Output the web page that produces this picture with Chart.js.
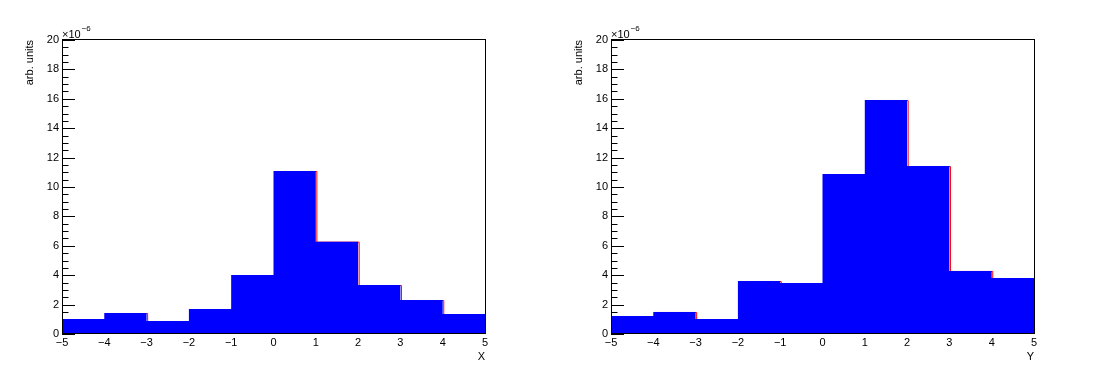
<!DOCTYPE html>
<html lang="en">
<head>
    <meta charset="UTF-8">
    <title>X / Y histograms</title>
    <script src="https://cdn.jsdelivr.net/npm/chart.js"></script>
    <style>
        body {
            margin: 0;
            background-color: #ffffff;
        }
        .row {
            display: flex;
            width: 1098px;
            height: 376px;
        }
        .pad {
            position: relative;
            width: 549px;
            height: 376px;
        }
    </style>
</head>
<body>
    <div class="row">
        <div class="pad"><canvas id="histX"></canvas></div>
        <div class="pad"><canvas id="histY"></canvas></div>
    </div>

    <script>
        // histogram bins (10 bins from -5 to 5), contents in units of 1e-6
        var binEdges = [-5, -4, -3, -2, -1, 0, 1, 2, 3, 4, 5];
        var xContents = [1.02, 1.43, 0.88, 1.70, 4.01, 11.09, 6.28, 3.33, 2.31, 1.36];
        var yContents = [1.22, 1.50, 1.02, 3.60, 3.47, 10.88, 15.92, 11.43, 4.29, 3.81];
        var yRange = [0, 20];
        var exponentLabel = '\u22126';
        var yTitle = 'arb. units';

        var FONT = '"Liberation Sans", Arial, Helvetica, sans-serif';

        function stepPoints(contents) {
            // one point per edge, last edge repeats the last bin content
            return binEdges.map(function(e, i) {
                return {x: e, y: contents[Math.min(i, contents.length - 1)]};
            });
        }

        function minusSign(v) {
            return String(v).replace('-', '\u2212');
        }

        // ROOT-like frame, inward ticks and titles
        var rootFrame = {
            id: 'rootFrame',
            beforeDatasetsDraw: function(chart) {
                var ctx = chart.ctx, a = chart.chartArea;
                var xs = chart.scales.x, ys = chart.scales.y;
                ctx.save();
                ctx.strokeStyle = '#000';
                ctx.lineWidth = 1;
                ctx.beginPath();
                for (var v = yRange[0]; v <= yRange[1] + 1e-9; v += 0.5) {
                    var py = Math.round(ys.getPixelForValue(v)) + 0.5;
                    var len = (Math.abs(v % 2) < 1e-9) ? 13 : 6.5;
                    ctx.moveTo(a.left, py);
                    ctx.lineTo(a.left + len, py);
                }
                for (var u = binEdges[0]; u <= binEdges[binEdges.length - 1] + 1e-9; u += 0.5) {
                    var px = Math.round(xs.getPixelForValue(u)) + 0.5;
                    var l2 = (Math.abs(u % 1) < 1e-9) ? 9 : 4.5;
                    ctx.moveTo(px, a.bottom);
                    ctx.lineTo(px, a.bottom - l2);
                }
                ctx.stroke();
                ctx.restore();
            },
            afterDatasetsDraw: function(chart, args, opts) {
                var ctx = chart.ctx, a = chart.chartArea;
                ctx.save();
                ctx.strokeStyle = '#000';
                ctx.lineWidth = 1;
                ctx.strokeRect(Math.round(a.left) + 0.5, Math.round(a.top) - 0.5,
                    Math.round(a.right - a.left), Math.round(a.bottom - a.top));

                ctx.fillStyle = '#000';
                // exponent above the y axis
                ctx.font = '11px ' + FONT;
                ctx.textAlign = 'left';
                ctx.textBaseline = 'alphabetic';
                ctx.fillText('\u00d710', a.left, a.top - 2);
                var w = ctx.measureText('\u00d710').width;
                ctx.font = '8px ' + FONT;
                ctx.fillText(exponentLabel, a.left + w + 1, a.top - 9);

                // axis titles
                ctx.font = '11px ' + FONT;
                ctx.textAlign = 'right';
                ctx.fillText(opts.xTitle, a.right, a.bottom + 26);

                ctx.translate(a.left - 26, a.top);
                ctx.rotate(-Math.PI / 2);
                ctx.textAlign = 'right';
                ctx.fillText(yTitle, 0, -3);
                ctx.restore();
            }
        };

        function makeHist(id, contents, xTitle) {
            var pts = stepPoints(contents);
            return new Chart(document.getElementById(id), {
                type: 'line',
                data: {
                    datasets: [{
                        // red outline, drawn below the blue fill, one pixel to the right
                        data: pts,
                        xAxisID: 'xShift',
                        yAxisID: 'yShift',
                        stepped: 'before',
                        borderColor: '#ff0000',
                        borderWidth: 1,
                        pointRadius: 0,
                        fill: false,
                        clip: 0,
                        order: 2
                    }, {
                        data: pts,
                        stepped: 'before',
                        borderWidth: 0,
                        borderColor: 'rgba(0,0,0,0)',
                        backgroundColor: '#0000ff',
                        pointRadius: 0,
                        fill: 'origin',
                        order: 1
                    }]
                },
                options: {
                    responsive: true,
                    maintainAspectRatio: false,
                    animation: false,
                    layout: {
                        padding: {left: 0, top: 40, right: 64, bottom: 0}
                    },
                    plugins: {
                        legend: {display: false},
                        tooltip: {enabled: false},
                        rootFrame: {xTitle: xTitle}
                    },
                    scales: {
                        x: {
                            type: 'linear',
                            min: binEdges[0],
                            max: binEdges[binEdges.length - 1],
                            grid: {display: false, drawTicks: false},
                            border: {display: false},
                            ticks: {
                                stepSize: 1,
                                padding: 2,
                                color: '#000',
                                font: {family: FONT, size: 11},
                                maxRotation: 0,
                                callback: function(v) { return minusSign(v); }
                            },
                            afterFit: function(s) { s.height = 42; }
                        },
                        y: {
                            min: yRange[0],
                            max: yRange[1],
                            grid: {display: false, drawTicks: false},
                            border: {display: false},
                            ticks: {
                                stepSize: 2,
                                padding: 3,
                                color: '#000',
                                font: {family: FONT, size: 11}
                            },
                            afterFit: function(s) { s.width = 62; }
                        },
                        xShift: {
                            type: 'linear',
                            display: false,
                            min: binEdges[0] - 0.025,
                            max: binEdges[binEdges.length - 1] - 0.025
                        },
                        yShift: {
                            display: false,
                            min: yRange[0] + 0.035,
                            max: yRange[1] + 0.035
                        }
                    }
                },
                plugins: [rootFrame]
            });
        }

        makeHist('histX', xContents, 'X');
        makeHist('histY', yContents, 'Y');
    </script>
</body>
</html>
